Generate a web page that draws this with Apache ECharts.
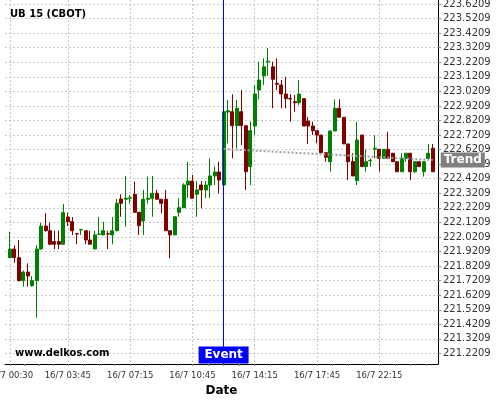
<!DOCTYPE html>
<html><head><meta charset="utf-8">
<script src="https://cdn.jsdelivr.net/npm/echarts@6/dist/echarts.min.js"></script>
<style>html,body{margin:0;padding:0;background:#fff}#c{width:500px;height:400px}</style>
</head><body><div id="c"></div>
<script>
const times = ['16/7 00:30','16/7 00:45','16/7 01:00','16/7 01:15','16/7 01:30','16/7 01:45','16/7 02:00','16/7 02:15','16/7 02:30','16/7 02:45',
'16/7 03:00','16/7 03:15','16/7 03:30','16/7 03:45','16/7 04:00','16/7 04:15','16/7 04:30','16/7 04:45','16/7 05:00','16/7 05:15',
'16/7 05:30','16/7 05:45','16/7 06:00','16/7 06:15','16/7 06:30','16/7 06:45','16/7 07:00','16/7 07:15','16/7 07:30','16/7 07:45',
'16/7 08:00','16/7 08:15','16/7 08:30','16/7 08:45','16/7 09:00','16/7 09:15','16/7 09:30','16/7 09:45','16/7 10:00','16/7 10:15',
'16/7 10:30','16/7 10:45','16/7 11:00','16/7 11:15','16/7 11:30','16/7 11:45','16/7 12:00','16/7 12:15','16/7 12:30','16/7 12:45',
'16/7 13:00','16/7 13:15','16/7 13:30','16/7 13:45','16/7 14:00','16/7 14:15','16/7 14:30','16/7 14:45','16/7 15:00','16/7 15:15',
'16/7 15:30','16/7 15:45','16/7 16:00','16/7 16:15','16/7 16:30','16/7 16:45','16/7 17:00','16/7 17:15','16/7 17:30','16/7 17:45',
'16/7 18:00','16/7 18:15','16/7 18:30','16/7 18:45','16/7 19:00','16/7 19:15','16/7 19:30','16/7 19:45','16/7 20:00','16/7 20:15',
'16/7 20:30','16/7 20:45','16/7 22:00','16/7 22:15','16/7 22:30','16/7 22:45','16/7 23:00','16/7 23:15','16/7 23:30','16/7 23:45',
'17/7 00:00','17/7 00:15','17/7 00:30','17/7 00:45','17/7 01:00','17/7 01:15'];

const open = [221.879,221.938,221.879,221.721,221.780,221.686,221.721,221.938,222.096,222.064,
221.990,221.990,221.971,222.158,222.126,222.043,222.069,222.064,222.000,221.938,
222.039,222.035,222.043,222.035,222.064,222.282,222.280,222.287,222.314,222.190,
222.131,222.280,222.287,222.321,222.280,222.280,222.064,222.035,222.190,222.222,
222.378,222.405,222.314,222.378,222.344,222.378,222.440,222.467,222.378,222.879,
222.881,222.785,222.881,222.785,222.504,222.783,223.030,223.127,223.223,223.190,
223.076,223.065,223.003,222.973,222.950,222.943,222.971,222.817,222.783,222.751,
222.721,222.600,222.538,222.749,222.905,222.843,222.660,222.538,222.408,222.721,
222.504,222.545,222.623,222.623,222.561,222.623,222.596,222.538,222.469,222.561,
222.596,222.469,222.538,222.469,222.561,222.630];
const close = [221.938,221.879,221.721,221.780,221.753,221.721,221.938,222.096,222.064,221.971,
221.971,221.971,222.188,222.126,222.064,222.041,222.073,222.000,221.971,222.035,
222.041,222.064,222.041,222.064,222.252,222.252,222.287,222.290,222.190,222.098,
222.280,222.287,222.321,222.280,222.252,222.064,222.035,222.160,222.222,222.378,
222.405,222.287,222.344,222.344,222.378,222.440,222.467,222.412,222.881,222.888,
222.785,222.905,222.785,222.469,222.751,223.003,223.099,223.190,223.228,223.104,
223.070,223.003,222.971,222.969,222.943,223.003,222.783,222.783,222.751,222.721,
222.600,222.568,222.749,222.905,222.843,222.660,222.538,222.440,222.687,222.504,
222.538,222.548,222.630,222.561,222.623,222.561,222.538,222.469,222.561,222.596,
222.469,222.538,222.504,222.538,222.596,222.469];
const low = [221.875,221.844,221.714,221.680,221.680,221.680,221.467,221.935,222.057,221.964,
221.938,221.938,221.971,222.096,222.035,221.971,222.035,221.971,221.971,221.938,
222.035,222.035,221.938,221.971,222.060,222.160,222.092,222.250,222.190,222.035,
222.035,222.250,222.160,222.280,222.184,222.064,221.874,222.035,222.160,222.222,
222.287,222.287,222.160,222.218,222.287,222.287,222.378,222.321,222.378,222.664,
222.561,222.630,222.653,222.344,222.378,222.721,222.966,223.065,223.127,222.905,
223.030,222.905,222.905,222.813,222.881,222.927,222.783,222.660,222.721,222.664,
222.600,222.538,222.469,222.749,222.843,222.660,222.412,222.440,222.378,222.504,
222.469,222.504,222.561,222.469,222.561,222.561,222.538,222.469,222.469,222.538,
222.412,222.460,222.504,222.435,222.561,222.469];
const high = [222.057,221.964,222.000,221.790,221.840,221.753,221.964,222.119,222.184,222.119,
222.064,222.064,222.247,222.188,222.158,222.045,222.075,222.064,222.064,222.064,
222.158,222.126,222.064,222.158,222.282,222.314,222.440,222.310,222.401,222.190,
222.344,222.435,222.440,222.344,222.280,222.344,222.064,222.160,222.287,222.390,
222.536,222.447,222.405,222.405,222.405,222.561,222.504,222.536,222.881,222.962,
223.001,222.962,223.030,222.785,222.813,223.065,223.225,223.248,223.317,223.225,
223.248,223.099,223.122,223.003,222.996,223.099,222.971,222.847,222.813,222.751,
222.721,222.600,222.749,222.966,222.966,222.843,222.660,222.596,222.813,222.721,
222.623,222.561,222.721,222.623,222.623,222.744,222.596,222.538,222.596,222.596,
222.596,222.538,222.538,222.538,222.660,222.660];

const yTickLabels = ['221.2209','221.3209','221.4209','221.5209','221.6209','221.7209','221.8209','221.9209',
'222.0209','222.1209','222.2209','222.3209','222.4209','222.5209','222.6209','222.7209','222.8209','222.9209',
'223.0209','223.1209','223.2209','223.3209','223.4209','223.5209','223.6209'];
const xTickIdx = [0,13,27,41,55,69,83];
const eventIdx = 48;
const trendIdx = [48,95];
const trendVal = [222.625,222.550];

const candleData = open.map((o,i)=>[i,o,close[i],low[i],high[i]]);
const yTickVals = yTickLabels.map(Number);
// small ticks: each labelled interval split in 4 (continued after the last label)
const minorX = [];
for (let k = 0; k < xTickIdx.length; k++) {
  const a = xTickIdx[k];
  const step = (k + 1 < xTickIdx.length ? xTickIdx[k + 1] - a : 14) / 4;
  for (let j = 0; j < 4; j++) { const v = a + step * j; if (v <= 96) minorX.push(v); }
}
const F = '"DejaVu Sans", sans-serif';
const XMIN = -1.1236, XMAX = 96.18;

const chart = echarts.init(document.getElementById('c'), null, {renderer:'canvas'});
chart.setOption({
  animation:false,
  backgroundColor:'#fff',
  grid:{left:5,right:62,top:0,bottom:36,containLabel:false,outerBoundsMode:'none'},
  xAxis:[{
    type:'value', min:XMIN, max:XMAX, position:'bottom',
    name:'Date', nameLocation:'middle', nameGap:19,
    nameTextStyle:{fontFamily:F,fontWeight:'bold',fontSize:12,color:'#000'},
    axisLine:{show:true,onZero:false,lineStyle:{color:'#000',width:1}},
    axisTick:{show:true,customValues:minorX,length:2,lineStyle:{color:'#808080'}},
    axisLabel:{customValues:xTickIdx,formatter:v=>times[Math.round(v)],fontFamily:F,fontSize:8.5,color:'#333',margin:7,hideOverlap:false},
    splitLine:{show:false}
  },{
    type:'value', min:XMIN, max:XMAX,
    axisLine:{show:false,onZero:false},
    axisLabel:{show:false},
    axisTick:{show:false,customValues:xTickIdx},
    splitLine:{show:true,lineStyle:{color:'#c8c8c8',type:[2,2],width:1}}
  }],
  yAxis:{
    type:'value', position:'right', min:221.1485, max:223.6485,
    axisLine:{show:true,onZero:false,lineStyle:{color:'#000',width:1}},
    axisTick:{show:true,customValues:yTickVals,length:3,lineStyle:{color:'#808080'}},
    axisLabel:{customValues:yTickVals,formatter:v=>yTickLabels[yTickVals.indexOf(v)] ?? v.toFixed(4),fontFamily:F,fontSize:10,color:'#333',margin:5},
    splitLine:{show:true,lineStyle:{color:'#c8c8c8',type:[2,2],width:1}}
  },
  graphic:[
    {type:'text',left:10,top:9,z:10,style:{text:'UB 15 (CBOT)',font:'bold 10px "DejaVu Sans"',fill:'#000'}},
    {type:'text',left:15,top:348,z:10,style:{text:'www.delkos.com',font:'bold 10px "DejaVu Sans"',fill:'#000'}}
  ],
  series:[
    {
      type:'candlestick',
      xAxisIndex:0,
      dimensions:['idx','open','close','lowest','highest'],
      encode:{x:'idx',y:['open','close','lowest','highest']},
      data:candleData,
      barWidth:3.5,
      itemStyle:{color:'#008000',color0:'#800000',borderColor:'#008000',borderColor0:'#800000',borderWidth:1},
      markLine:{
        silent:true,symbol:'none',animation:false,
        lineStyle:{color:'#0000ff',width:1,type:'solid'},
        label:{show:false},
        data:[{xAxis:eventIdx}]
      },
      markPoint:{
        silent:true,animation:false,
        symbol:'rect',symbolSize:[50,17],symbolOffset:[0,-9],
        itemStyle:{color:'#0000ff'},
        label:{show:true,position:'inside',formatter:'Event',color:'#fff',fontFamily:F,fontWeight:'bold',fontSize:12},
        data:[{coord:[eventIdx,221.1485]}]
      }
    },
    {
      type:'line',
      xAxisIndex:0,
      data:trendIdx.map((x,i)=>[x,trendVal[i]]),
      showSymbol:false,symbol:'none',z:5,
      lineStyle:{color:'#a0a0a0',width:2,type:[2,2]},
      endLabel:{show:true,formatter:'Trend',color:'#fff',backgroundColor:'#808080',fontFamily:F,fontWeight:'bold',fontSize:12,padding:[2,3,1,3],distance:8}
    }
  ]
});
</script>
</body></html>
